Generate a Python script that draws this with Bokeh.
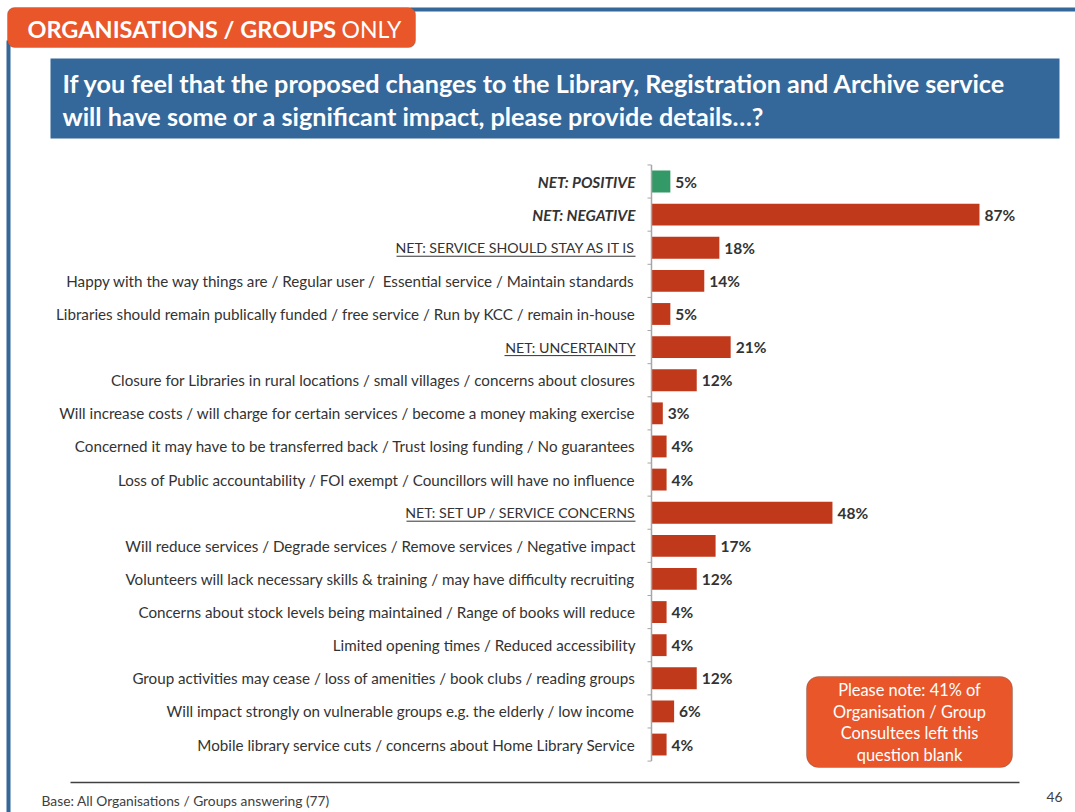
from bokeh.plotting import figure
from bokeh.models import ColumnDataSource, Range1d, Label, BoxAnnotation
from bokeh.core.properties import value
from bokeh.embed import file_html
from bokeh.resources import INLINE

# ---------------- data ----------------
categories = [
    "NET: POSITIVE",
    "NET: NEGATIVE",
    "NET: SERVICE SHOULD STAY AS IT IS",
    "Happy with the way things are / Regular user / \u00a0Essential service / Maintain standards",
    "Libraries should remain publically funded / free service / Run by KCC / remain in-house",
    "NET: UNCERTAINTY",
    "Closure for Libraries in rural locations / small villages / concerns about closures",
    "Will increase costs / will charge for certain services / become a money making exercise",
    "Concerned it may have to be transferred back / Trust losing funding / No guarantees",
    "Loss of Public accountability / FOI exempt / Councillors will have no influence",
    "NET: SET UP / SERVICE CONCERNS",
    "Will reduce services / Degrade services / Remove services / Negative impact",
    "Volunteers will lack necessary skills & training / may have difficulty recruiting",
    "Concerns about stock levels being maintained / Range of books will reduce",
    "Limited opening times / Reduced accessibility",
    "Group activities may cease / loss of amenities / book clubs / reading groups",
    "Will impact strongly on vulnerable groups e.g. the elderly / low income",
    "Mobile library service cuts / concerns about Home Library Service",
]
values = [5, 87, 18, 14, 5, 21, 12, 3, 4, 4, 48, 17, 12, 4, 4, 12, 6, 4]

tab_bold = "ORGANISATIONS / GROUPS"
tab_normal = "ONLY"
title_lines = [
    "If you feel that the proposed changes to the Library, Registration and Archive service",
    "will have some or a significant impact, please provide details\u2026?",
]
note_lines = ["Please note: 41% of", "Organisation / Group", "Consultees left this", "question blank"]
base_text = "Base: All Organisations / Groups answering (77)"
page_number = "46"

# ---------------- layout helpers ----------------
W, H = 1075, 812
PX = 3.77      # pixels per percentage point
AX = 651       # x of the value axis
R0 = 181       # y of first row centre
RH = 33.12     # row pitch in pixels

def X(rx):
    return (rx - AX) / PX

def Y(ry):
    return (ry - R0) / RH

FONT_NAME = "Lato"
FONT = value(FONT_NAME)
RED = "#C0391B"
GREEN = "#339966"
BLUE = "#34679A"
ORANGE = "#E8562A"
DARK = "#333333"

p = figure(width=W, height=H,
           x_range=Range1d(X(0), X(W)), y_range=Range1d(Y(H), Y(0)),
           output_backend="svg", toolbar_location=None, min_border=0,
           x_axis_location=None, y_axis_location=None)
p.outline_line_color = None
p.background_fill_color = "white"
p.border_fill_color = "white"
p.grid.visible = False

n = len(categories)
idx = list(range(n))
underlined = {"NET: SERVICE SHOULD STAY AS IT IS", "NET: UNCERTAINTY", "NET: SET UP / SERVICE CONCERNS"}
styles, sizes = [], []
for c in categories:
    if c in ("NET: POSITIVE", "NET: NEGATIVE"):
        styles.append("bold italic")
        sizes.append("15.3px")
    elif c in underlined:
        styles.append("normal")
        sizes.append("14.2px")
    else:
        styles.append("normal")
        sizes.append("15.2px")
colors = [GREEN if c == "NET: POSITIVE" else RED for c in categories]
src = ColumnDataSource(dict(idx=idx, val=values, cat=categories, style=styles, size=sizes,
                            color=colors, lbl=[f"{v}%" for v in values]))

# bars
p.hbar(y="idx", left=0, right="val", height=0.66, fill_color="color",
       line_color=None, source=src)

# axis line + ticks
p.segment(x0=0, y0=-0.5, x1=0, y1=n - 0.5, line_color="#A6A6A6", line_width=1.5)
bounds = [i - 0.5 for i in range(n + 1)]
p.segment(x0=[X(AX - 4)] * len(bounds), x1=[0] * len(bounds), y0=bounds, y1=bounds,
          line_color="#A6A6A6", line_width=1)

# value labels
p.text(x="val", y="idx", text="lbl", x_offset=5, text_baseline="middle",
       text_font=FONT, text_font_size="15.5px", text_font_style="bold",
       text_color=DARK, source=src)

# category labels
p.text(x=0, y="idx", text="cat", x_offset=-16, text_align="right",
       text_baseline="middle", text_font=FONT, text_font_size="size",
       text_font_style="style", text_color=DARK, source=src)

# underlines for NET headers
underline_px = {
    "NET: SERVICE SHOULD STAY AS IT IS": 239,
    "NET: UNCERTAINTY": 131,
    "NET: SET UP / SERVICE CONCERNS": 229,
}
ux0, ux1, uy = [], [], []
for i, c in enumerate(categories):
    if c in underline_px:
        ux0.append(X(AX - 16 - underline_px[c]))
        ux1.append(X(AX - 16))
        uy.append(i + 8.5 / RH)
p.segment(x0=ux0, x1=ux1, y0=uy, y1=uy, line_color=DARK, line_width=1)

# bottom rule
p.segment(x0=[X(70)], x1=[X(1019)], y0=[Y(782)], y1=[Y(782)], line_color="#404040", line_width=1.5)

# frame lines
p.add_layout(BoxAnnotation(left=X(410), right=X(1080), top=Y(7), bottom=Y(11),
                           fill_color=BLUE, fill_alpha=1, line_color=None))
p.add_layout(BoxAnnotation(left=X(6), right=X(10), top=Y(40), bottom=Y(820),
                           fill_color=BLUE, fill_alpha=1, line_color=None))

# orange tab
p.add_layout(BoxAnnotation(left=X(7), right=X(415), top=Y(7), bottom=Y(47),
                           fill_color=ORANGE, fill_alpha=1, line_color="#555555",
                           line_width=1, border_radius=7))
p.add_layout(Label(x=X(27), y=Y(28), text=tab_bold, text_font=FONT_NAME, text_font_size="23.5px",
                   text_font_style="bold", text_color="white", text_baseline="middle"))
p.add_layout(Label(x=X(341), y=Y(28), text=tab_normal, text_font=FONT_NAME, text_font_size="23px",
                   text_color="white", text_baseline="middle"))

# title box
p.add_layout(BoxAnnotation(left=X(50), right=X(1059), top=Y(58), bottom=Y(138),
                           fill_color=BLUE, fill_alpha=1, line_color=None))
for k, t in enumerate(title_lines):
    p.add_layout(Label(x=X(62), y=Y(82 + 33 * k), text=t, text_font=FONT_NAME,
                       text_font_size="25.2px", text_font_style="bold",
                       text_color="white", text_baseline="middle"))

# note box
p.add_layout(BoxAnnotation(left=X(806), right=X(1012), top=Y(676), bottom=Y(767),
                           fill_color=ORANGE, fill_alpha=1, line_color="#4D4D4D",
                           line_width=1, border_radius=12))
for k, t in enumerate(note_lines):
    p.add_layout(Label(x=X(909), y=Y(689 + 21.7 * k), text=t, text_font=FONT_NAME,
                       text_font_size="16.4px", text_color="white",
                       text_align="center", text_baseline="middle"))

# footer texts
p.add_layout(Label(x=X(41), y=Y(800), text=base_text, text_font=FONT_NAME,
                   text_font_size="13.8px", text_color="#404040", text_baseline="middle"))
p.add_layout(Label(x=X(1046), y=Y(796), text=page_number, text_font=FONT_NAME,
                   text_font_size="13.8px", text_color="#404040", text_baseline="middle"))

open("out.html", "w").write(file_html(p, INLINE))
